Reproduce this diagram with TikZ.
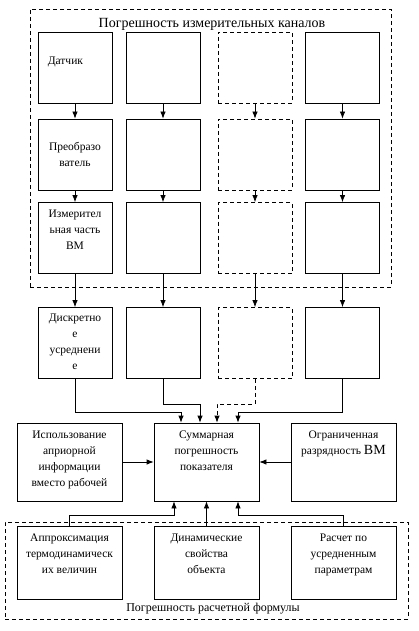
\documentclass[tikz,border=0pt]{standalone}
\usepackage{fontspec}
\setmainfont{Liberation Serif}
\usetikzlibrary{positioning,arrows.meta}
\tikzset{square/.style = {draw, fill=white, line width=0.8pt, rectangle, minimum height=71pt, minimum width=74pt, inner sep=0pt},
         dsquare/.style = {square, dash pattern=on 4pt off 3pt},
         block/.style = {draw, fill=white, line width=0.8pt, rectangle, minimum height=78pt, minimum width=105pt, inner sep=0pt},
         lowblock/.style = {block, minimum height=73pt},
         frame/.style = {draw, dash pattern=on 4pt off 3pt, line width=0.8pt, rectangle, inner sep=0pt},
         txt/.style = {align=center, font=\fontsize{11.5}{16}\selectfont, inner sep=0pt},
         arr/.style = {-{Latex[length=7pt,width=5.5pt]}, line width=0.8pt}}

\begin{document}
\begin{tikzpicture}[x=1pt,y=-1pt]
        \path[use as bounding box, fill=white] (0,0) rectangle (418,631);

        % dashed groups
        \node[frame, minimum width=361pt, minimum height=278pt] (chan) at (210.5,148) {};
        \node[frame, minimum width=403pt, minimum height=97pt] (formula) at (206.5,570.5) {};
        \node[font=\fontsize{14}{16}\selectfont, inner sep=0pt] (chantitle) at (212,24) {Погрешность измерительных каналов};
        \node[font=\fontsize{12}{14}\selectfont, inner sep=0pt] (formtitle) at (213,609) {Погрешность расчетной формулы};

        % measuring channels
        \node[square] (sensA) at (75,67.5) {};
        \node[square] (sensB) at (163,67.5) {};
        \node[dsquare] (sensC) at (255,67.5) {};
        \node[square] (sensD) at (342.5,67.5) {};

        \node[square] (convA) at (75,154.5) {};
        \node[square] (convB) at (163,154.5) {};
        \node[dsquare] (convC) at (255,154.5) {};
        \node[square] (convD) at (342.5,154.5) {};

        \node[square] (measA) at (75,238) {};
        \node[square] (measB) at (163,238) {};
        \node[dsquare] (measC) at (255,238) {};
        \node[square] (measD) at (342.5,238) {};

        \node[square] (avgA) at (75,343) {};
        \node[square] (avgB) at (163,343) {};
        \node[dsquare] (avgC) at (255,343) {};
        \node[square] (avgD) at (342.5,343) {};

        \node[txt, below right=25pt and 10pt of sensA.north west] (sensAtxt) {Датчик};
        \node[txt, below=23pt of convA.north] (convAtxt) {Преобразо\\ватель};
        \node[txt, below=8pt of measA.north] (measAtxt) {Измерител\\ьная часть\\ВМ};
        \node[txt, below=7pt of avgA.north] (avgAtxt) {Дискретно\\е\\усреднени\\е};

        % total error and sources
        \node[block] (apriori) at (69.5,462) {};
        \node[block] (sum) at (206.5,462) {};
        \node[block] (digits) at (343.5,462) {};
        \node[lowblock] (approx) at (69.5,562.5) {};
        \node[lowblock] (dyn) at (206.5,562.5) {};
        \node[lowblock] (mean) at (343.5,562.5) {};

        \node[txt, below=8pt of apriori.north] (aprioritxt) {Использование\\априорной\\информации\\вместо рабочей};
        \node[txt, below=8pt of sum.north] (sumtxt) {Суммарная\\погрешность\\показателя};
        \node[txt, below=8pt of digits.north] (digitstxt) {Ограниченная\\разрядность {\fontsize{14}{16}\selectfont ВМ}};
        \node[txt, below=8pt of approx.north] (approxtxt) {Аппроксимация\\термодинамическ\\их величин};
        \node[txt, below=8pt of dyn.north] (dyntxt) {Динамические\\свойства\\объекта};
        \node[txt, below=8pt of mean.north] (meantxt) {Расчет по\\усредненным\\параметрам};

        % arrows in the channels
        \draw[arr] (sensA) -- (convA);
        \draw[arr] (sensB) -- (convB);
        \draw[arr] (sensC) -- (convC);
        \draw[arr] (sensD) -- (convD);
        \draw[arr] (convA) -- (measA);
        \draw[arr] (convB) -- (measB);
        \draw[arr] (convC) -- (measC);
        \draw[arr] (convD) -- (measD);
        \draw[arr] (measA) -- (avgA);
        \draw[arr] (measB) -- (avgB);
        \draw[arr] (measC) -- (avgC);
        \draw[arr] (measD) -- (avgD);

        \draw[arr] (avgA.south) -- ++(0,33) -| ([xshift=-25.5pt]sum.north);
        \draw[arr] (avgB.south) -- ++(0,25) -| ([xshift=-6.5pt]sum.north);
        \draw[arr, dash pattern=on 4pt off 3pt] (avgC.south) -- ++(0,25) -| ([xshift=10.5pt]sum.north);
        \draw[arr] (avgD.south) -- ++(0,33) -| ([xshift=31.5pt]sum.north);

        \draw[arr] (apriori) -- (sum);
        \draw[arr] (digits) -- (sum);

        \draw[arr] (approx.north) -- ++(0,-10) -| ([xshift=-32.5pt]sum.south);
        \draw[arr] (dyn) -- (sum);
        \draw[arr] (mean.north) -- ++(0,-10) -| ([xshift=31.5pt]sum.south);
\end{tikzpicture}
\end{document}
